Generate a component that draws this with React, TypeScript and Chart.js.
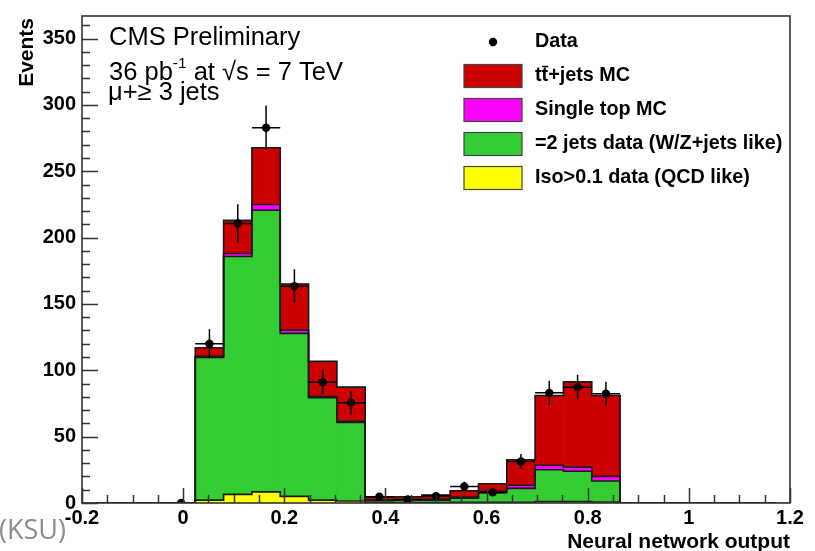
import React, { useEffect, useRef } from "react";
import { Chart, registerables } from "chart.js";

Chart.register(...registerables);

// ---- data (25 bins from -0.2 to 1.2, width 0.056) ----
const binCenters = [
  -0.172, -0.116, -0.06, -0.004, 0.052, 0.108, 0.164, 0.22, 0.276, 0.332,
  0.388, 0.444, 0.5, 0.556, 0.612, 0.668, 0.724, 0.78, 0.836, 0.892,
  0.948, 1.004, 1.06, 1.116, 1.172,
];
const binHalfWidth = 0.028;

const qcdLike = [0, 0, 0, 0, 2.2, 6.5, 8.4, 5, 2.2, 1.5, 0.5, 0.3, 0.3, 0.5, 0.5, 0.5, 1, 1, 0.8, 0, 0, 0, 0, 0, 0];
const wzLike = [0, 0, 0, 0, 107.5, 179.3, 212.2, 122.8, 77.1, 59.2, 1.5, 1.9, 1.9, 3.2, 7.2, 10.5, 24.1, 22.9, 15.8, 0, 0, 0, 0, 0, 0];
const singleTop = [0, 0, 0, 0, 0.8, 2.2, 4.3, 2.5, 1, 0.8, 0.3, 0.3, 0.5, 0.7, 1.2, 2.4, 3.3, 3.1, 3.5, 0, 0, 0, 0, 0, 0];
const ttbarMC = [0, 0, 0, 0, 6.5, 25, 42.8, 34.7, 26.4, 25.8, 2.2, 2.2, 3.3, 4.8, 5.6, 19.2, 52.6, 64.3, 60.9, 0, 0, 0, 0, 0, 0];

const dataValues = [null, null, null, 0, 120, 210.7, 282.8, 163.4, 91, 75.6, 4.7, 2.7, 5.2, 12.5, 8, 31.3, 83, 87.3, 82.3, null, null, null, null, null, null];
const dataErrors = [0, 0, 0, 0, 11, 14.5, 16.8, 12.8, 9.5, 8.7, 2.2, 1.6, 2.3, 3.5, 2.8, 5.6, 9.1, 9.3, 9.1, 0, 0, 0, 0, 0, 0];

const xTickValues = [-0.2, 0, 0.2, 0.4, 0.6, 0.8, 1, 1.2];
const xTickLabels = ["-0.2", "0", "0.2", "0.4", "0.6", "0.8", "1", "1.2"];
const yTickValues = [0, 50, 100, 150, 200, 250, 300, 350];
const yTickLabels = ["0", "50", "100", "150", "200", "250", "300", "350"];

const legendLabels = ["Data", "tt+jets MC", "Single top MC", "=2 jets data (W/Z+jets like)", "Iso>0.1 data (QCD like)"];
const legendColors = ["#000000", "#cc0000", "#ff00ff", "#33cc33", "#ffff00"];

const X_MIN = -0.2;
const X_MAX = 1.2;
const Y_MIN = 0;
const Y_MAX = 367;
const X_MINOR = 0.05;
const Y_MINOR = 10;

const FONT = "'Liberation Sans', Arial, Helvetica, sans-serif";

function cumulative(...series: number[][]): number[] {
  return series[0].map((_, i) => series.reduce((s, a) => s + a[i], 0));
}

function pts(values: (number | null)[]) {
  return values.map((v, i) => ({ x: binCenters[i], y: v }));
}

const rootPlugin = {
  id: "rootStyle",
  beforeDatasetDraw(chart: any, args: any) {
    if (args.index !== 0) return;
    const ctx = chart.ctx;
    const xs = chart.scales.x;
    const ys = chart.scales.y2;
    const area = chart.chartArea;
    ctx.save();
    ctx.beginPath();
    ctx.rect(area.left, area.top, area.right - area.left, area.bottom - area.top);
    ctx.clip();
    ctx.strokeStyle = "#000";
    ctx.lineWidth = 1.5;
    dataValues.forEach((v, i) => {
      if (v === null) return;
      const cx = xs.getPixelForValue(binCenters[i]);
      const cy = ys.getPixelForValue(v);
      const x0 = xs.getPixelForValue(binCenters[i] - binHalfWidth);
      const x1 = xs.getPixelForValue(binCenters[i] + binHalfWidth);
      ctx.beginPath();
      ctx.moveTo(x0, cy);
      ctx.lineTo(x1, cy);
      const e = dataErrors[i];
      if (e > 0) {
        ctx.moveTo(cx, ys.getPixelForValue(v - e));
        ctx.lineTo(cx, ys.getPixelForValue(v + e));
      }
      ctx.stroke();
    });
    ctx.restore();
  },
  afterDraw(chart: any) {
    const ctx = chart.ctx;
    const xs = chart.scales.x;
    const ys = chart.scales.y;
    const a = chart.chartArea;
    ctx.save();
    // ticks (inside)
    ctx.strokeStyle = "#333";
    ctx.lineWidth = 1.5;
    ctx.beginPath();
    for (let v = Y_MIN; v <= Y_MAX + 1e-9; v += Y_MINOR) {
      const y = Math.round(ys.getPixelForValue(v)) + 0.5;
      const major = Math.abs(v % 50) < 1e-6;
      ctx.moveTo(a.left, y);
      ctx.lineTo(a.left + (major ? 16 : 8), y);
    }
    for (let k = 0; ; k++) {
      const v = X_MIN + k * X_MINOR;
      if (v > X_MAX + 1e-9) break;
      const x = Math.round(xs.getPixelForValue(v)) + 0.5;
      const major = k % 4 === 0;
      ctx.moveTo(x, a.bottom);
      ctx.lineTo(x, a.bottom - (major ? 15 : 8));
    }
    ctx.stroke();
    // frame
    ctx.lineWidth = 1.6;
    ctx.strokeRect(a.left, a.top, a.right - a.left, a.bottom - a.top);

    // texts
    ctx.fillStyle = "#000";
    ctx.textBaseline = "alphabetic";
    ctx.textAlign = "left";
    ctx.font = `25.5px ${FONT}`;
    ctx.fillText("CMS Preliminary", 109, 45);
    let x = 109;
    const seg = (t: string, font: string, y: number) => {
      ctx.font = font;
      ctx.fillText(t, x, y);
      x += ctx.measureText(t).width;
    };
    seg("36 pb", `25.5px ${FONT}`, 80);
    seg("-1", `15.5px ${FONT}`, 68);
    seg(" at", `25.5px ${FONT}`, 80);
    seg(" \u221As = 7 TeV", `25.5px ${FONT}`, 80);
    ctx.font = `25.5px ${FONT}`;
    ctx.fillText("\u03BC+\u2265 3 jets", 108, 100);

    // axis titles
    ctx.font = `bold 21px ${FONT}`;
    ctx.textAlign = "right";
    ctx.fillText("Neural network output", a.right, 548);
    ctx.save();
    ctx.translate(27, a.top + 2);
    ctx.rotate(-Math.PI / 2);
    ctx.textBaseline = "middle";
    ctx.textAlign = "right";
    ctx.fillText("Events", 0, 0);
    ctx.restore();

    // legend
    ctx.textAlign = "left";
    ctx.textBaseline = "middle";
    legendLabels.forEach((lab, i) => {
      const cy = 42 + 34 * i;
      if (i === 0) {
        ctx.fillStyle = "#000";
        ctx.beginPath();
        ctx.arc(493, cy, 4.2, 0, Math.PI * 2);
        ctx.fill();
      } else {
        ctx.fillStyle = legendColors[i];
        ctx.fillRect(464, cy - 11.5, 58, 23);
        ctx.strokeStyle = "#444";
        ctx.lineWidth = 1.2;
        ctx.strokeRect(464, cy - 11.5, 58, 23);
      }
      ctx.fillStyle = "#000";
      ctx.font = `bold 19.8px ${FONT}`;
      ctx.fillText(lab, 535, cy);
      if (i === 1) {
        const tw = ctx.measureText("t").width;
        ctx.strokeStyle = "#000";
        ctx.lineWidth = 1.5;
        ctx.beginPath();
        ctx.moveTo(535 + tw + 0.5, cy - 9.5);
        ctx.lineTo(535 + 2 * tw, cy - 9.5);
        ctx.stroke();
      }
    });

    // slide overlay text
    ctx.fillStyle = "#8c8c8c";
    ctx.textAlign = "left";
    ctx.textBaseline = "alphabetic";
    ctx.font = `27px 'Open Sans', sans-serif`;
    ctx.fillText("(KSU)", -1, 539);
    ctx.restore();
  },
};

export default function App() {
  const ref = useRef<HTMLCanvasElement | null>(null);
  useEffect(() => {
    document.body.style.margin = "0";
    if (!ref.current) return;
    const outlineLevels = [
      cumulative(qcdLike, wzLike, singleTop, ttbarMC),
      cumulative(qcdLike, wzLike, singleTop),
      cumulative(qcdLike, wzLike),
      cumulative(qcdLike),
    ];
    const lineDs = outlineLevels.map((lvl) => ({
      type: "line" as const,
      data: pts(lvl),
      yAxisID: "y2",
      stepped: "middle" as const,
      borderColor: "#1a1a1a",
      borderWidth: 1.6,
      pointRadius: 0,
      fill: false,
      order: 1,
    }));
    const barDs = [
      { data: qcdLike, color: "#ffff00" },
      { data: wzLike, color: "#33cc33" },
      { data: singleTop, color: "#ff00ff" },
      { data: ttbarMC, color: "#cc0000" },
    ].map((b) => ({
      type: "bar" as const,
      data: pts(b.data),
      yAxisID: "y",
      backgroundColor: b.color,
      borderWidth: 0,
      barPercentage: 1,
      categoryPercentage: 1,
      order: 2,
    }));
    const chart = new Chart(ref.current, {
      type: "bar",
      data: {
        datasets: [
          {
            type: "scatter" as const,
            data: pts(dataValues).filter((p) => p.y !== null) as any,
            yAxisID: "y2",
            backgroundColor: "#000",
            borderWidth: 0,
            pointRadius: 4.2,
            order: 0,
          },
          ...lineDs,
          ...barDs,
        ] as any,
      },
      options: {
        responsive: false,
        animation: false,
        devicePixelRatio: 1,
        layout: { padding: { top: 11, right: 25, left: 0, bottom: 0 } },
        plugins: { legend: { display: false }, tooltip: { enabled: false } },
        scales: {
          x: {
            type: "linear",
            min: X_MIN,
            max: X_MAX,
            offset: false,
            stacked: true,
            grid: { display: false, drawTicks: false, offset: false },
            border: { display: false },
            afterBuildTicks: (s: any) => {
              s.ticks = xTickValues.map((v) => ({ value: v }));
            },
            afterFit: (s: any) => {
              s.height = 48;
            },
            ticks: {
              autoSkip: false,
              maxRotation: 0,
              padding: 5,
              color: "#000",
              font: { family: FONT, size: 20, weight: "bold", lineHeight: 1 },
              callback: (v: any) => {
                const i = xTickValues.findIndex((t) => Math.abs(t - v) < 1e-6);
                return i >= 0 ? xTickLabels[i] : "";
              },
            },
          },
          y: {
            type: "linear",
            min: Y_MIN,
            max: Y_MAX,
            stacked: true,
            grid: { display: false, drawTicks: false },
            border: { display: false },
            afterBuildTicks: (s: any) => {
              s.ticks = yTickValues.map((v) => ({ value: v }));
            },
            afterFit: (s: any) => {
              s.width = 82;
            },
            ticks: {
              autoSkip: false,
              padding: 6,
              color: "#000",
              font: { family: FONT, size: 20, weight: "bold", lineHeight: 1 },
              callback: (v: any) => {
                const i = yTickValues.findIndex((t) => Math.abs(t - v) < 1e-6);
                return i >= 0 ? yTickLabels[i] : "";
              },
            },
          },
          y2: { type: "linear", display: false, min: Y_MIN, max: Y_MAX },
        },
      },
      plugins: [rootPlugin],
    });
    return () => chart.destroy();
  }, []);
  return <canvas ref={ref} width={815} height={551} style={{ display: "block" }} />;
}
